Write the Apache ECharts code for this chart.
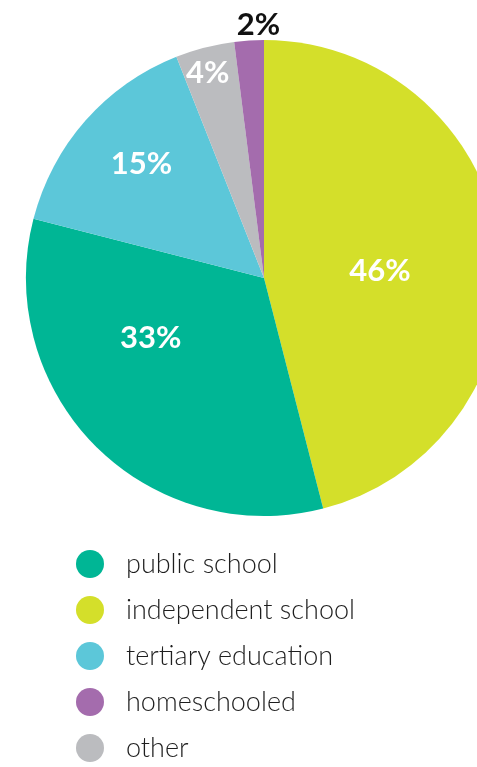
<!DOCTYPE html>
<html><head><meta charset="utf-8">
<script src="https://cdn.jsdelivr.net/npm/echarts@6/dist/echarts.min.js"></script>
<style>html,body{margin:0;padding:0;background:#fff}#c{width:477px;height:767px}</style>
</head><body><div id="c"></div>
<script>
// pie order (clockwise from top)
const categories = ['independent school','public school','tertiary education','other','homeschooled'];
const values = [46, 33, 15, 4, 2];
const legendOrder = ['public school','independent school','tertiary education','homeschooled','other'];
const colors = {'independent school':'#d4df2a','public school':'#00b695','tertiary education':'#5cc7d9','other':'#bbbcbf','homeschooled':'#a46cad'};
const labelOffsets = {'independent school':[-5,8],'public school':[-27,-26],'tertiary education':[-31,-33],'other':[-26,-87],'homeschooled':[2,-131]};
const labelColors = {'homeschooled':'#111'};
const chart = echarts.init(document.getElementById('c'));
chart.setOption({
  animation:false,
  legend:{
    orient:'vertical', left:71, top:545, height:230, itemWidth:28, itemHeight:28, itemGap:18,
    icon:'circle', data:legendOrder,
    textStyle:{fontFamily:'Lato', fontWeight:300, fontSize:27, lineHeight:28, color:'#1e1e1e', padding:[0,0,0,17]}
  },
  series:[{
    type:'pie', center:[264,278], radius:238, startAngle:90, clockwise:true,
    silent:true,
    labelLine:{show:false},
    data: categories.map((c,i)=>({
      name:c, value:values[i],
      itemStyle:{color:colors[c]},
      label:{show:true, position:'inside', formatter:'{d}%', offset:labelOffsets[c],
        color:labelColors[c]||'#fff', fontFamily:'Lato', fontWeight:'bold', fontSize:31}
    }))
  }]
});
</script></body></html>
